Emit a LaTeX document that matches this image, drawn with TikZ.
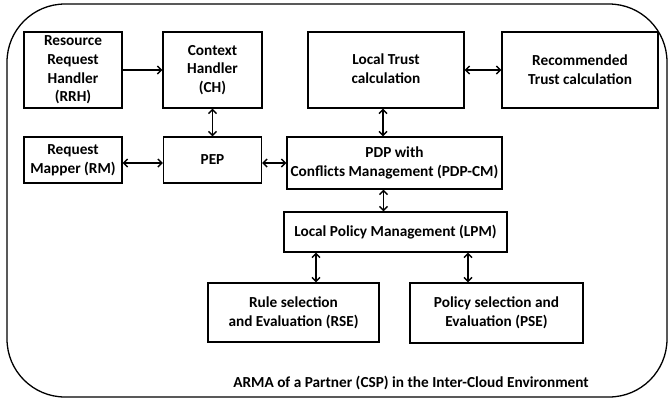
\documentclass[tikz,border=0pt]{standalone}
\usepackage{fontspec}
\setmainfont{Carlito}
\usetikzlibrary{arrows.meta}
\begin{document}
\begin{tikzpicture}[x=1pt,y=-1pt,
  txt/.style={font=\bfseries\fontsize{15.3}{18.7}\selectfont},
  bx/.style={txt, draw, line width=1.3pt, align=center, inner sep=0pt},
  arr/.style={line width=1.4pt, -{Straight Barb[length=4pt,width=8pt]}},
  darr/.style={line width=1.4pt, {Straight Barb[length=4pt,width=8pt]}-{Straight Barb[length=4pt,width=8pt]}}]
\useasboundingbox (0,0) rectangle (669,400);
\draw[line width=1.3pt, rounded corners=58pt] (7,4) rectangle (667,397);
\node[bx, minimum width=98pt, minimum height=76pt] (rrh) at (73,70) {Resource\\Request\\Handler\\(RRH)};
\node[bx, minimum width=99pt, minimum height=76pt] (ch) at (212.5,70) {Context\\Handler\\(CH)};
\node[bx, minimum width=156pt, minimum height=76pt] (lt) at (386,70) {\raisebox{3pt}{Local Trust}\\\raisebox{3pt}{calculation}};
\node[bx, minimum width=156pt, minimum height=76pt] (rt) at (580,70) {Recommended\\Trust calculation};
\node[bx, minimum width=98pt, minimum height=46pt] (rm) at (73,160) {Request\\Mapper (RM)};
\node[bx, minimum width=98pt, minimum height=46pt] (pep) at (212.5,160) {PEP};
\node[bx, minimum width=215pt, minimum height=52pt] (pdp) at (394.5,163) {PDP with\\Conflicts Management (PDP-CM)};
\node[bx, minimum width=223pt, minimum height=40pt] (lpm) at (395.5,232) {Local Policy Management (LPM)};
\node[bx, minimum width=171pt, minimum height=59pt] (rse) at (293.5,312.5) {Rule selection\\and Evaluation (RSE)};
\node[bx, minimum width=173pt, minimum height=60pt] (pse) at (496.5,313) {Policy selection and\\Evaluation (PSE)};
\node[txt] (cap) at (411,383) {ARMA of a Partner (CSP) in the Inter-Cloud Environment};
\draw[arr] (rrh) -- (ch);
\draw[darr] (ch) -- (pep);
\draw[darr] ([yshift=-3pt]rm.east) -- ([yshift=-3pt]pep.west);
\draw[darr] ([yshift=-3pt]pep.east) -- ([yshift=-3pt]pep.east -| pdp.west);
\draw[darr] ([xshift=-3pt]lt.south) -- ([xshift=-3pt]lt.south |- pdp.north);
\draw[darr] (lt) -- (rt);
\draw[darr] ([xshift=-11pt]pdp.south) -- ([xshift=-11pt]pdp.south |- lpm.north);
\draw[darr] ([xshift=22.5pt]rse.north |- lpm.south) -- ([xshift=22.5pt]rse.north);
\draw[darr] ([xshift=-28.5pt]pse.north |- lpm.south) -- ([xshift=-28.5pt]pse.north);
\end{tikzpicture}
\end{document}
